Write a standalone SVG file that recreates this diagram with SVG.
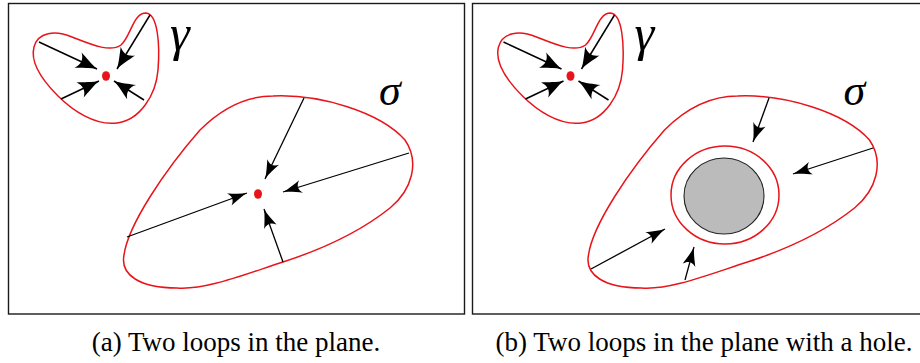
<svg xmlns="http://www.w3.org/2000/svg" width="920" height="363" viewBox="0 0 920 363">
<style>
.frame{fill:none;stroke:#1a1a1a;stroke-width:1.4}
.loop{fill:none;stroke:#e8141a;stroke-width:1.5}
.ga{fill:none;stroke:#000;stroke-width:1.5;marker-end:url(#headL)}
.sa{fill:none;stroke:#000;stroke-width:1.3;marker-end:url(#headS)}
.dot{fill:#e8141a}
.lbl{font-family:"Liberation Serif","DejaVu Serif",serif;font-style:italic;font-size:44px;fill:#000}
.g{font-size:50px}
.cap{font-family:"Liberation Serif","DejaVu Serif",serif;font-size:27px;fill:#000;text-anchor:middle}
</style>
<defs>
<marker id="headL" markerUnits="userSpaceOnUse" markerWidth="24" markerHeight="18" viewBox="-21 -8.5 23 17" refX="0" refY="0" orient="auto">
<path d="M0,0 C-6,-1.5 -14,-5.5 -20,-8 C-15.5,-3 -15.5,3 -20,8 C-14,5.5 -6,1.5 0,0 Z" fill="#000"/>
</marker>
<marker id="headS" markerUnits="userSpaceOnUse" markerWidth="22" markerHeight="14" viewBox="-19 -6.5 21 13" refX="0" refY="0" orient="auto">
<path d="M0,0 C-6,-1.2 -13,-4.2 -18,-6.2 C-14,-2 -14,2 -18,6.2 C-13,4.2 -6,1.2 0,0 Z" fill="#000"/>
</marker>
<path id="gammaLoop" d="M146,13 C158,14 160,45 158,70 C156,95 140,120 117,123 C95,126 72,110 58,96 C42,80 30,62 34,47 C38,32 55,30 72,37 C90,44 110,53 121,45 C131,36 133,13 146,13 Z"/>
<path id="sigmaLoop" d="M273,96 C320,94 380,112 405,140 C420,162 412,190 390,208 C360,232 320,250 283,262 C240,276 205,290 177,288 C140,288 120,275 124,255 C128,225 165,170 200,130 C222,108 245,96 273,96 Z"/>
</defs>
<rect class="frame" x="8.5" y="3.5" width="456" height="310.5"/>
<rect class="frame" x="472.5" y="3.5" width="460" height="310.5"/>
<g id="panelA">
<g id="gammaA">
<use href="#gammaLoop" class="loop"/>
<ellipse class="dot" cx="106" cy="76" rx="4" ry="4.8"/>
<text class="lbl g" x="170" y="50">γ</text>
</g>
<g id="sigmaA">
<use href="#sigmaLoop" class="loop"/>
<ellipse class="dot" cx="258" cy="194" rx="4" ry="4.8"/>
<text class="lbl" x="379" y="105">σ</text>
</g>
<g id="connectorsA">
<line class="ga" x1="39" y1="42" x2="97" y2="69"/>
<line class="ga" x1="150" y1="15" x2="117" y2="69"/>
<line class="ga" x1="61" y1="99" x2="99" y2="81"/>
<line class="ga" x1="144" y1="100" x2="114" y2="81"/>
<line class="sa" x1="304" y1="98" x2="265" y2="179"/>
<line class="sa" x1="409" y1="153" x2="283" y2="192"/>
<line class="sa" x1="127" y1="237" x2="247" y2="193"/>
<line class="sa" x1="283" y1="262" x2="264" y2="209"/>
</g>
</g>
<g id="panelB">
<g id="gammaB">
<use href="#gammaLoop" class="loop" transform="translate(464.5,0)"/>
<ellipse class="dot" cx="570.5" cy="76" rx="4" ry="4.8"/>
<text class="lbl g" x="634.5" y="50">γ</text>
</g>
<g id="sigmaB">
<use href="#sigmaLoop" class="loop" transform="translate(464.5,0)"/>
<text class="lbl" x="843.5" y="105">σ</text>
</g>
<g id="hole">
<ellipse cx="725" cy="195" rx="54" ry="49" class="loop"/>
<ellipse cx="724" cy="196" rx="40" ry="38" fill="#bbbbbb" stroke="#222" stroke-width="1.1"/>
</g>
<g id="connectorsB">
<line class="ga" x1="150" y1="15" x2="117" y2="69" transform="translate(464.5,0)"/>
<line class="ga" x1="39" y1="42" x2="97" y2="69" transform="translate(464.5,0)"/>
<line class="ga" x1="61" y1="99" x2="99" y2="81" transform="translate(464.5,0)"/>
<line class="ga" x1="144" y1="100" x2="114" y2="81" transform="translate(464.5,0)"/>
<line class="sa" x1="769" y1="98" x2="753" y2="142"/>
<line class="sa" x1="873" y1="148" x2="793" y2="174"/>
<line class="sa" x1="591" y1="269" x2="665" y2="229"/>
<line class="sa" x1="685" y1="280" x2="694" y2="247"/>
</g>
</g>
<text class="cap" x="236" y="351">(a) Two loops in the plane.</text>
<text class="cap" x="704" y="351">(b) Two loops in the plane with a hole.</text>
</svg>
